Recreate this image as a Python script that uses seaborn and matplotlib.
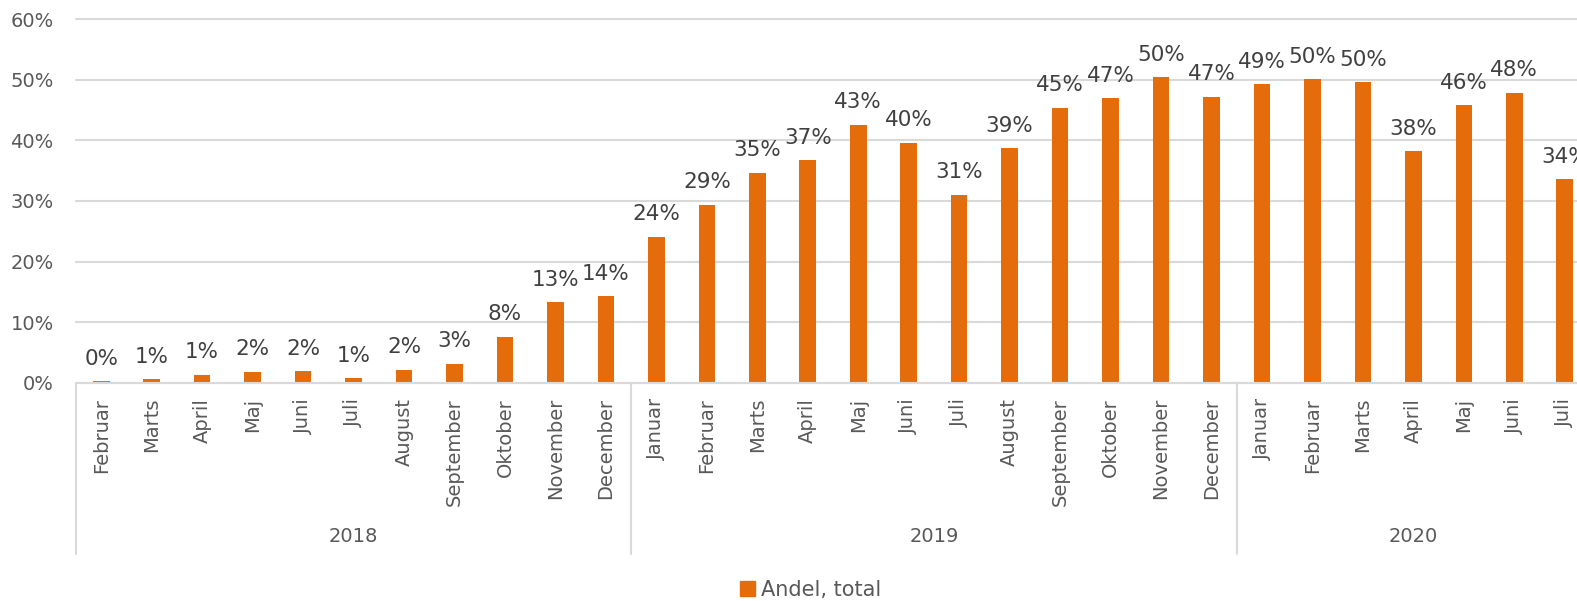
import numpy as np
import pandas as pd
import seaborn as sns
import matplotlib.pyplot as plt
from matplotlib.patches import Patch
from matplotlib.ticker import PercentFormatter

sns.set_theme(style="white")
plt.rcParams['font.family'] = ['DejaVu Sans']

# data (share in percent)
years = ["2018"] * 11 + ["2019"] * 12 + ["2020"] * 7
months = ["Februar", "Marts", "April", "Maj", "Juni", "Juli", "August",
          "September", "Oktober", "November", "December",
          "Januar", "Februar", "Marts", "April", "Maj", "Juni", "Juli",
          "August", "September", "Oktober", "November", "December",
          "Januar", "Februar", "Marts", "April", "Maj", "Juni", "Juli"]
andel = [0.2, 0.6, 1.3, 1.8, 1.9, 0.7, 2.1, 3.1, 7.6, 13.3, 14.3,
         24.1, 29.4, 34.7, 36.7, 42.6, 39.6, 31.0, 38.7, 45.4, 47.0, 50.4, 47.2,
         49.3, 50.1, 49.6, 38.2, 45.8, 47.9, 33.6]

orange = "#E46C0A"
grid_c = "#D9D9D9"

df = pd.DataFrame({"year": years, "month": months, "andel": andel})
df["key"] = df["year"] + "-" + df["month"]

fig = plt.figure(figsize=(15.77, 6.01), dpi=100)
# plot area runs past the right edge, like the cropped original
ax = fig.add_axes([76 / 1577, 1 - 382.7 / 601, 1514 / 1577, 363.4 / 601])

sns.barplot(data=df, x="key", y="andel", color=orange, width=0.33,
            saturation=1, linewidth=0, ax=ax)

ax.set_ylim(0, 60)
ax.set_xlim(-0.5, len(df) - 0.5)
ax.set_yticks(range(0, 61, 10))
ax.yaxis.set_major_formatter(PercentFormatter(100, decimals=0))
ax.grid(axis="y", color=grid_c, linewidth=1.5)
for gl in ax.get_ygridlines():
    gl.set_clip_on(False)
ax.set_axisbelow(True)
for s in ["top", "right", "left"]:
    ax.spines[s].set_visible(False)
ax.spines["bottom"].set_color(grid_c)
ax.spines["bottom"].set_linewidth(1.5)

ax.set_xlabel("")
ax.set_ylabel("")
ax.set_xticks(range(len(df)))
ax.set_xticklabels(df["month"], rotation=90, va="top")
ax.tick_params(axis="x", length=0, pad=11, labelsize=14, labelcolor="#595959")
ax.tick_params(axis="y", length=0, pad=16, labelsize=14, labelcolor="#595959")

ax.bar_label(ax.containers[0], labels=[f"{v:.0f}%" for v in andel],
             padding=9, fontsize=15.5, color="#404040")

# year groups below the month labels
trans = ax.get_xaxis_transform()
bounds = [-0.5]
for y in ["2018", "2019", "2020"]:
    bounds.append(bounds[-1] + (df["year"] == y).sum())
for b in bounds:
    ax.plot([b, b], [0, -0.4714], transform=trans, color=grid_c,
            linewidth=1.5, clip_on=False)
for i, y in enumerate(["2018", "2019", "2020"]):
    ax.text((bounds[i] + bounds[i + 1]) / 2, -0.422, y, transform=trans,
            ha="center", va="center", fontsize=14, color="#595959",
            family=["Liberation Sans Narrow", "DejaVu Sans"])

fig.legend(handles=[Patch(color=orange, label="Andel, total")],
           loc="center", bbox_to_anchor=(811 / 1577, 1 - 590 / 601),
           frameon=False, handlelength=0.7, handleheight=0.7,
           handletextpad=0.3, prop={"family": ["Liberation Sans Narrow", "DejaVu Sans"], "size": 15},
           labelcolor="#595959")

fig.savefig("out.png", dpi=100)
